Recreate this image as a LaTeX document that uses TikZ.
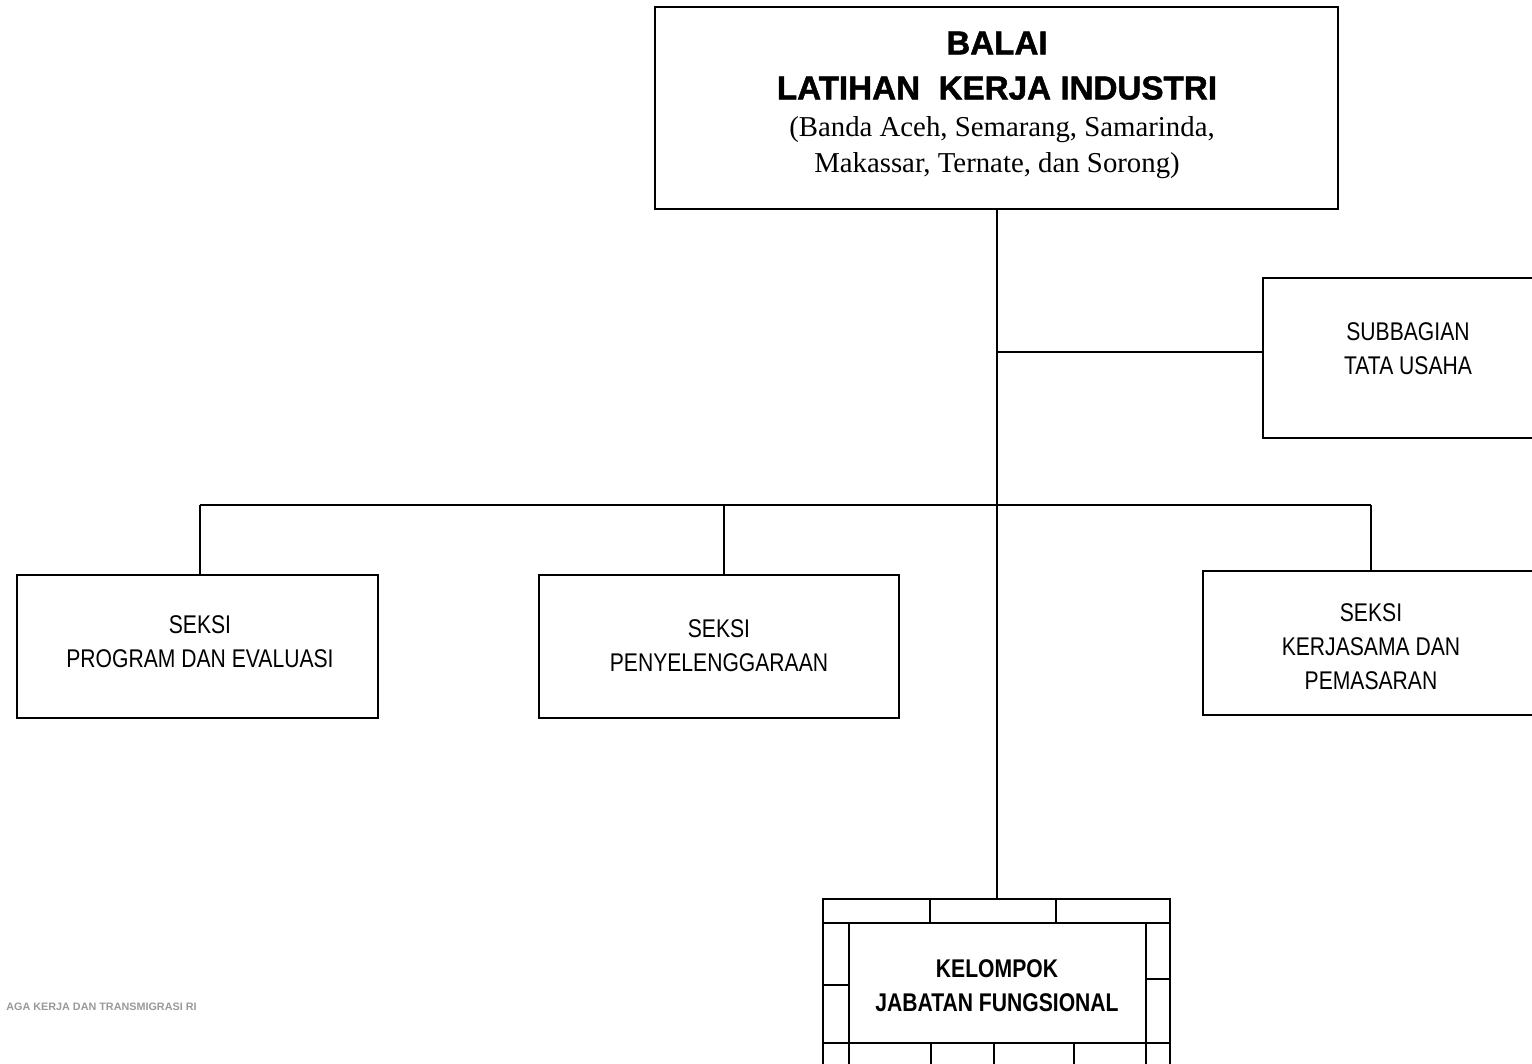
\documentclass[tikz,border=0pt]{standalone}
\usepackage{fontspec}
\setmainfont{Liberation Serif}
\newfontfamily\headfont[FakeBold=1.4]{Liberation Sans}
\newfontfamily\plainsans{Liberation Sans}
\newfontfamily\narrowfont[FakeStretch=0.825]{Liberation Sans}
\begin{document}
\begin{tikzpicture}[x=0.5pt,y=-0.5pt,
  unit/.style={draw,line width=1pt,rectangle,inner sep=0pt},
  link/.style={line width=1pt},
  lbl/.style={align=center,font=\narrowfont\fontsize{12.8}{17}\selectfont,inner sep=0pt},
  head/.style={inner sep=0pt,font=\headfont\bfseries\fontsize{16.6}{18}\selectfont},
  place/.style={inner sep=0pt,font=\fontsize{14.4}{16}\selectfont},
  frame/.style={line width=1pt}]
\useasboundingbox (0,0) rectangle (1532,1064);
\clip (0,0) rectangle (1532,1064);

% head office
\node[unit,minimum width=341.5pt,minimum height=101pt] (balai) at (996.5,108) {};
\node[head] (h1) at (997,43) {BALAI};
\node[head] (h2) at (997,88) {LATIHAN\ \ KERJA INDUSTRI};
\node[place] (h3) at (1002,130) {(Banda Aceh, Semarang, Samarinda,};
\node[place] (h4) at (997,166) {Makassar, Ternate, dan Sorong)};

% staff unit (runs off the right edge)
\node[unit,minimum width=140pt,minimum height=80pt] (tu) at (1403,358) {};
\node[lbl] (tutxt) at (1408,349) {SUBBAGIAN\\TATA USAHA};

% sections
\node[unit,minimum width=180.5pt,minimum height=71.5pt] (prog) at (197.5,646.5) {};
\node[lbl] (progtxt) at (200,642) {SEKSI\\PROGRAM DAN EVALUASI};
\node[unit,minimum width=180pt,minimum height=71.5pt] (peny) at (719,646.5) {};
\node[lbl] (penytxt) at (719,646) {SEKSI\\PENYELENGGARAAN};
\node[unit,minimum width=170pt,minimum height=72pt] (kerja) at (1373,643) {};
\node[lbl] (kerjatxt) at (1371,647) {SEKSI\\KERJASAMA DAN\\PEMASARAN};

% functional group: framed box with cell border
\coordinate (kel) at (997,899);
\draw[frame] (823,1070) -- (823,899) -- (1170,899) -- (1170,1070);
\draw[frame] (849,1070) -- (849,923) -- (1146,923) -- (1146,1070);
\draw[frame] (823,923) -- (849,923) (1146,923) -- (1170,923);
\draw[frame] (823,1043) -- (1170,1043);
\draw[frame] (930,899) -- (930,923) (1056,899) -- (1056,923);
\draw[frame] (931,1043) -- (931,1070) (994,1043) -- (994,1070) (1074,1043) -- (1074,1070);
\draw[frame] (823,985) -- (849,985) (1146,979) -- (1170,979);
\node[align=center,inner sep=0pt,font=\narrowfont\bfseries\fontsize{12.8}{17}\selectfont] (keltxt) at (997,986)
  {KELOMPOK\\JABATAN FUNGSIONAL};

% connectors
\coordinate (j1) at (997,352);
\coordinate (d1) at (200,505);
\coordinate (d2) at (724,505);
\coordinate (d3) at (1371,505);
\draw[link] (balai.south -| j1) -- (kel);
\draw[link] (j1) -- (tu.west |- j1);
\draw[link] (d1) -- (d3);
\draw[link] (d1) -- (prog.north -| d1);
\draw[link] (d2) -- (peny.north -| d2);
\draw[link] (d3) -- (kerja.north -| d3);

% faded footer text
\node[anchor=east,inner sep=0pt,text=black!40,font=\plainsans\bfseries\fontsize{5.4}{6}\selectfont] (foot) at (197,1007)
  {AGA KERJA DAN TRANSMIGRASI RI};
\end{tikzpicture}
\end{document}
